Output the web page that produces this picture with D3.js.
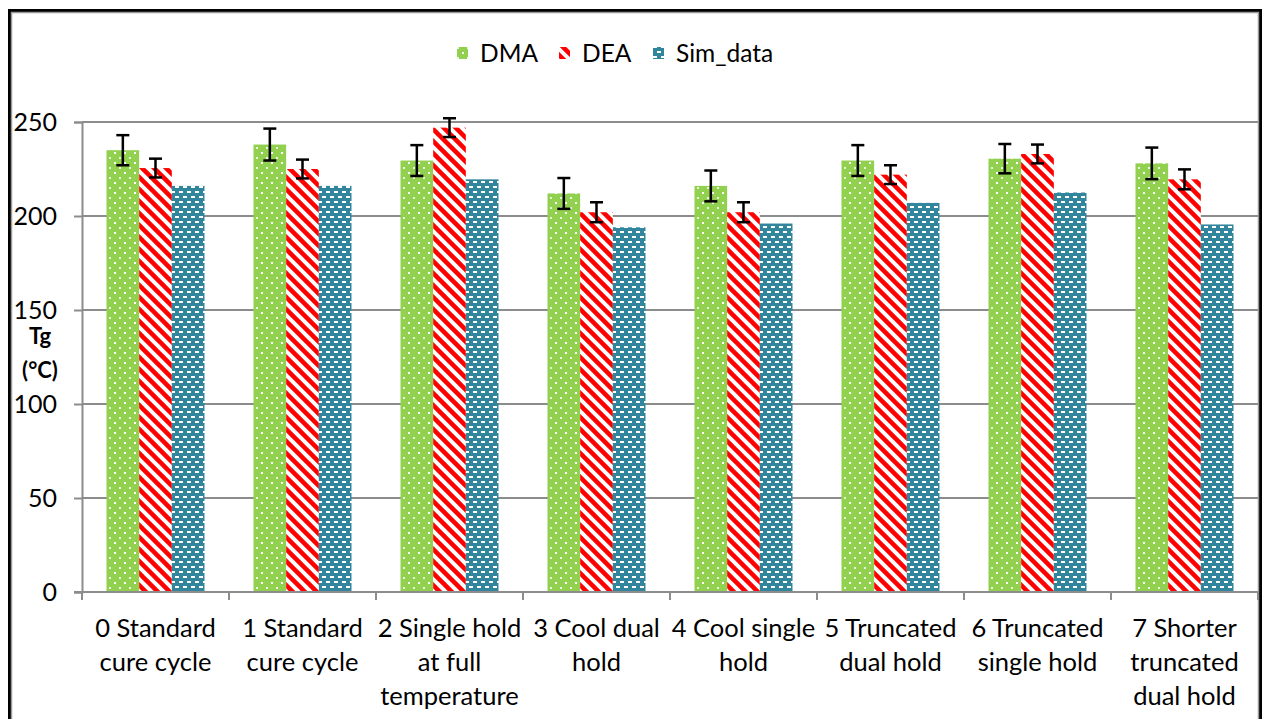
<!DOCTYPE html>
<html><head><meta charset="utf-8">
<script src="https://cdn.jsdelivr.net/npm/d3@7"></script>
<style>
html,body{margin:0;padding:0;background:#fff;}
svg text{font-family:"Lato","Open Sans",sans-serif;fill:#000;}
</style></head>
<body>
<svg id="chart" width="1264" height="719"></svg>
<script>
const categories = [
  ["0 Standard","cure cycle"],
  ["1 Standard","cure cycle"],
  ["2 Single hold","at full","temperature"],
  ["3 Cool dual","hold"],
  ["4 Cool single","hold"],
  ["5 Truncated","dual hold"],
  ["6 Truncated","single hold"],
  ["7 Shorter","truncated","dual hold"]
];
const seriesNames = ["DMA","DEA","Sim_data"];
const dmaValues = [235, 238, 229.5, 212, 216, 229.5, 230.5, 228];
const dmaErrors = [8, 8.5, 8.2, 8.2, 8.2, 8.2, 7.8, 8.4];
const deaValues = [225.5, 225, 247, 202, 202, 222, 233, 219.5];
const deaErrors = [5, 5, 5, 5.3, 5.3, 5, 5, 5.3];
const simValues = [216, 216, 219.5, 194, 196, 207, 212.5, 195.5];
const yTicks = [0, 50, 100, 150, 200, 250];

(function(){
const svg = d3.select("#chart");
const defs = svg.append("defs");

// DMA pattern: green with white dots
const pDMA = defs.append("pattern").attr("id","pDMA").attr("patternUnits","userSpaceOnUse")
  .attr("width",10).attr("height",10);
pDMA.append("rect").attr("width",10).attr("height",10).attr("fill","#92D050");
pDMA.append("rect").attr("x",2).attr("y",2).attr("width",2).attr("height",2).attr("fill","#fff");
pDMA.append("rect").attr("x",7).attr("y",7).attr("width",2).attr("height",2).attr("fill","#fff").attr("opacity",0.8);

// DEA pattern: white with red downward diagonal stripes
const pDEA = defs.append("pattern").attr("id","pDEA").attr("patternUnits","userSpaceOnUse")
  .attr("width",12).attr("height",12);
pDEA.append("rect").attr("width",12).attr("height",12).attr("fill","#fff");
pDEA.append("path").attr("d","M-3,-3 L15,15 M-3,9 L3,15 M9,-3 L15,3")
  .attr("stroke","#FF0000").attr("stroke-width",4.5);

// Sim pattern: teal with white dashes
const pSim = defs.append("pattern").attr("id","pSim").attr("patternUnits","userSpaceOnUse")
  .attr("width",8).attr("height",10);
pSim.append("rect").attr("width",8).attr("height",10).attr("fill","#31859C");
pSim.append("rect").attr("x",1).attr("y",1).attr("width",4).attr("height",2).attr("fill","#fff");
pSim.append("rect").attr("x",5).attr("y",6).attr("width",4).attr("height",2).attr("fill","#fff");
pSim.append("rect").attr("x",-3).attr("y",6).attr("width",4).attr("height",2).attr("fill","#fff");

const fills = {"DMA":"url(#pDMA)","DEA":"url(#pDEA)","Sim_data":"url(#pSim)"};

// Frame
svg.append("rect").attr("x",9.5).attr("y",10.5).attr("width",1251).attr("height",720)
  .attr("fill","none").attr("stroke","#000").attr("stroke-width",3);
svg.append("rect").attr("x",11.5).attr("y",12.5).attr("width",1247).attr("height",720)
  .attr("fill","none").attr("stroke","#9a9a9a").attr("stroke-width",1.5);

const pLeft = 82, pRight = 1258, pTop = 122, pBottom = 592;
const y = d3.scaleLinear().domain([0,250]).range([pBottom, pTop]);
const x0 = d3.scaleBand().domain(d3.range(categories.length)).range([pLeft,pRight]).padding(0);
const x1 = d3.scaleBand().domain(seriesNames).range([0, x0.bandwidth()]).paddingInner(0).paddingOuter(0.75);

// gridlines
svg.append("g").selectAll("line").data(yTicks.filter(d=>d>0)).join("line")
  .attr("x1",pLeft).attr("x2",pRight).attr("y1",d=>y(d)).attr("y2",d=>y(d))
  .attr("stroke","#8c8c8c").attr("stroke-width",2);

// y axis
const yAxis = svg.append("g").attr("transform",`translate(${pLeft},0)`)
  .call(d3.axisLeft(y).tickValues(yTicks).tickSize(8).tickPadding(17));
yAxis.select(".domain").attr("stroke","#8c8c8c").attr("stroke-width",2);
yAxis.selectAll(".tick line").attr("stroke","#8c8c8c").attr("stroke-width",2);
yAxis.selectAll(".tick text").attr("font-size",25).attr("font-family","Lato, sans-serif").attr("fill","#000");

// y title
const yt = svg.append("text").attr("text-anchor","middle").attr("font-weight","bold").attr("font-size",22);
yt.append("tspan").attr("x",40).attr("y",344).text("Tg");
yt.append("tspan").attr("x",40).attr("y",378).text("(°C)");

// bars
const data = categories.map((c,i)=>({i,
  vals:[{s:"DMA",v:dmaValues[i],e:dmaErrors[i]},{s:"DEA",v:deaValues[i],e:deaErrors[i]},{s:"Sim_data",v:simValues[i],e:null}]}));
const groups = svg.append("g").selectAll("g").data(data).join("g")
  .attr("transform",d=>`translate(${x0(d.i)},0)`);
groups.selectAll("rect").data(d=>d.vals).join("rect")
  .attr("x",d=>x1(d.s)).attr("width",x1.bandwidth())
  .attr("y",d=>y(d.v)).attr("height",d=>y(0)-y(d.v))
  .attr("fill",d=>fills[d.s]);

// error bars
const eb = groups.selectAll("g.err").data(d=>d.vals.filter(v=>v.e!=null)).join("g").attr("class","err");
const cx = d=>x1(d.s)+x1.bandwidth()/2;
eb.append("line").attr("x1",cx).attr("x2",cx)
  .attr("y1",d=>y(d.v+d.e)).attr("y2",d=>y(d.v-d.e)).attr("stroke","#000").attr("stroke-width",2.5);
eb.append("line").attr("x1",d=>cx(d)-6.5).attr("x2",d=>cx(d)+6.5)
  .attr("y1",d=>y(d.v+d.e)).attr("y2",d=>y(d.v+d.e)).attr("stroke","#000").attr("stroke-width",2.5);
eb.append("line").attr("x1",d=>cx(d)-6.5).attr("x2",d=>cx(d)+6.5)
  .attr("y1",d=>y(d.v-d.e)).attr("y2",d=>y(d.v-d.e)).attr("stroke","#000").attr("stroke-width",2.5);

// x axis
svg.append("line").attr("x1",pLeft-8).attr("x2",pRight).attr("y1",pBottom).attr("y2",pBottom)
  .attr("stroke","#8c8c8c").attr("stroke-width",2);
svg.append("g").selectAll("line").data(d3.range(categories.length+1)).join("line")
  .attr("x1",i=>pLeft+i*x0.step()).attr("x2",i=>pLeft+i*x0.step())
  .attr("y1",pBottom).attr("y2",pBottom+8).attr("stroke","#8c8c8c").attr("stroke-width",2);
const xl = svg.append("g").selectAll("text").data(data).join("text")
  .attr("text-anchor","middle").attr("font-size",25.5);
xl.each(function(d){
  const t = d3.select(this);
  categories[d.i].forEach((line,k)=>{
    t.append("tspan").attr("x",x0(d.i)+x0.bandwidth()/2).attr("y",637+k*34).text(line);
  });
});

// legend
const leg = svg.append("g");
const legItems = [{s:"DMA",x:457},{s:"DEA",x:559},{s:"Sim_data",x:653}];
legItems.forEach(it=>{
  leg.append("rect").attr("x",it.x).attr("y",47).attr("width",11).attr("height",12).attr("fill",fills[it.s]);
  leg.append("text").attr("x",it.x+23).attr("y",62).attr("font-size",24.5).text(it.s);
});
})();
</script>
</body></html>
